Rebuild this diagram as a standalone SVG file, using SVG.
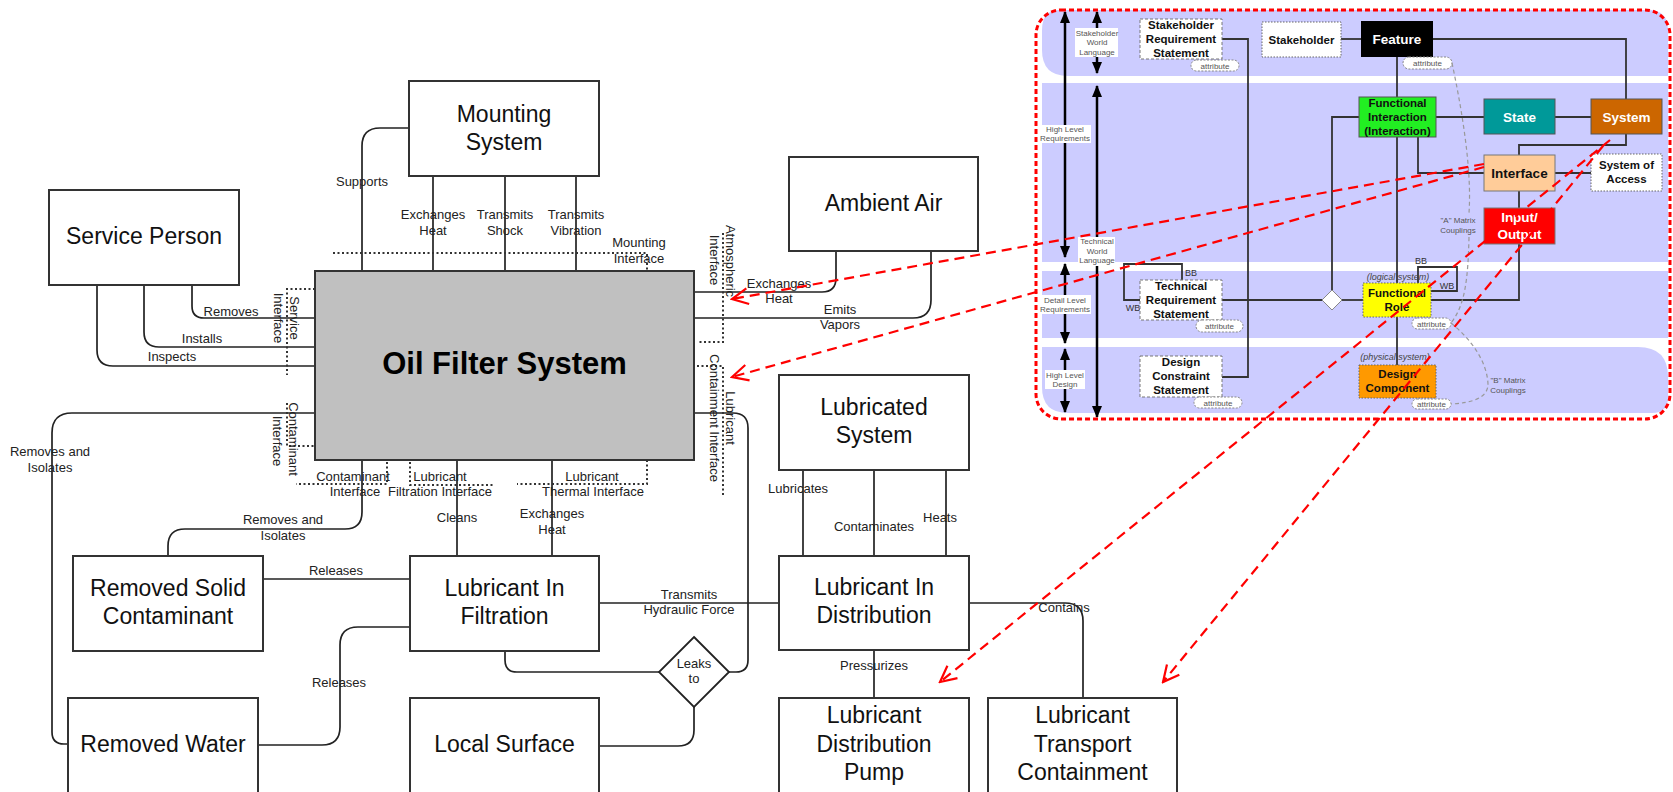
<svg xmlns="http://www.w3.org/2000/svg" width="1673" height="792" viewBox="0 0 1673 792">
<style>
.box{fill:#fff;stroke:#333;stroke-width:2}
.ln{fill:none;stroke:#222;stroke-width:1.7}
.dot{fill:none;stroke:#333;stroke-width:2;stroke-dasharray:2 2.5}
.t23{font-family:"Liberation Sans",Arial,sans-serif;font-size:23px;fill:#111;text-anchor:middle}
.big{font-family:"Liberation Sans",Arial,sans-serif;font-size:31px;font-weight:bold;fill:#000;text-anchor:middle}
.lb{font-family:"Liberation Sans",Arial,sans-serif;font-size:13px;fill:#222;text-anchor:middle}
.red{fill:none;stroke:#f00;stroke-width:2.2;stroke-dasharray:10 6;marker-end:url(#ra)}
.pl{fill:none;stroke:#333;stroke-width:1.8}
.pb{font-family:"Liberation Sans",Arial,sans-serif;font-size:11.5px;font-weight:bold;fill:#111;text-anchor:middle}
.pB{font-family:"Liberation Sans",Arial,sans-serif;font-size:13.5px;font-weight:bold;text-anchor:middle}
.sm{font-family:"Liberation Sans",Arial,sans-serif;font-size:8px;fill:#555;text-anchor:middle}
.it{font-family:"Liberation Sans",Arial,sans-serif;font-size:9px;font-style:italic;fill:#444;text-anchor:middle}
.bw{font-family:"Liberation Sans",Arial,sans-serif;font-size:9px;fill:#333;text-anchor:middle}
.pill{fill:#fff;stroke:#888;stroke-width:1;stroke-dasharray:2 1.5}
.arr{fill:none;stroke:#000;stroke-width:2.5;marker-start:url(#ba);marker-end:url(#ba)}
.band{fill:#ccccff}
.dash{stroke:#777;stroke-width:1;stroke-dasharray:3 2}
.dotb{stroke:#666;stroke-width:1;stroke-dasharray:1.5 1.5}
.cp{fill:none;stroke:#999;stroke-width:1.2;stroke-dasharray:4 3}
</style>
<defs>
<marker id="ra" viewBox="0 0 20 20" refX="18" refY="10" markerWidth="20" markerHeight="20" markerUnits="userSpaceOnUse" orient="auto">
<path d="M2,2 L18,10 L2,18" fill="none" stroke="#f00" stroke-width="2.2" stroke-dasharray="none"/>
</marker>
<marker id="ba" viewBox="0 0 12 10" refX="11" refY="5" markerWidth="12" markerHeight="10" markerUnits="userSpaceOnUse" orient="auto-start-reverse">
<path d="M0,0 L12,5 L0,10 Z" fill="#000"/>
</marker>
</defs>
<rect x="0" y="0" width="1673" height="792" fill="#fff"/>

<!-- ============ MAIN DIAGRAM CONNECTORS ============ -->
<g id="connectors">
<path class="ln" d="M409,128 H380 Q362,128 362,146 V271"/>
<path class="ln" d="M433,176 V271"/>
<path class="ln" d="M505,176 V271"/>
<path class="ln" d="M576,176 V271"/>
<path class="ln" d="M192,285 V306 Q192,318 204,318 H315"/>
<path class="ln" d="M144,285 V332 Q144,347 159,347 H315"/>
<path class="ln" d="M97,285 V350 Q97,366 113,366 H315"/>
<path class="ln" d="M836,251 V278 Q836,292 822,292 H694"/>
<path class="ln" d="M931,251 V300 Q931,318 913,318 H694"/>
<path class="ln" d="M694,413 H733 Q748,413 748,428 V660 Q748,672 736,672 H729"/>
<path class="ln" d="M315,413 H72 Q52,413 52,433 V732 Q52,744 64,744 H68"/>
<path class="ln" d="M362,460 V512 Q362,529 345,529 H185 Q168,529 168,546 V556"/>
<path class="ln" d="M263,579 H410"/>
<path class="ln" d="M410,627 H358 Q340,627 340,645 V727 Q340,745 322,745 H258"/>
<path class="ln" d="M457,460 V556"/>
<path class="ln" d="M552,460 V556"/>
<path class="ln" d="M599,603 H779"/>
<path class="ln" d="M505,651 V660 Q505,672 517,672 H659"/>
<path class="ln" d="M694,707 V730 Q694,746 678,746 H599"/>
<path class="ln" d="M803,470 V556"/>
<path class="ln" d="M874,470 V556"/>
<path class="ln" d="M946,470 V556"/>
<path class="ln" d="M874,650 V698"/>
<path class="ln" d="M969,603 H1065 Q1083,603 1083,621 V698"/>
</g>

<!-- interface boundaries -->
<g id="interfaces">
<path class="dot" d="M333,253 H647 V271"/>
<path class="dot" d="M315,289 H287 V375"/>
<path class="dot" d="M723,233 V342 H697"/>
<path class="dot" d="M697,366 H723 V496"/>
<path class="dot" d="M287,403 V446 H315"/>
<path class="dot" d="M387,462 V484 H296"/>
<path class="dot" d="M410,462 V485 H493"/>
<path class="dot" d="M647,460 V484 H517"/>
</g>

<!-- ============ MAIN NODES ============ -->
<g id="service-person"><rect class="box" x="49" y="190" width="190" height="95"/><text class="t23" x="144" y="244">Service Person</text></g>
<g id="mounting-system"><rect class="box" x="409" y="81" width="190" height="95"/><text class="t23" x="504" y="122">Mounting</text><text class="t23" x="504" y="150">System</text></g>
<g id="ambient-air"><rect class="box" x="789" y="157" width="189" height="94"/><text class="t23" x="883.5" y="211">Ambient Air</text></g>
<g id="oil-filter-system"><rect x="315" y="271" width="379" height="189" fill="#c0c0c0" stroke="#333" stroke-width="2"/><text class="big" x="504.5" y="374">Oil Filter System</text></g>
<g id="removed-solid-contaminant"><rect class="box" x="73" y="556" width="190" height="95"/><text class="t23" x="168" y="596">Removed Solid</text><text class="t23" x="168" y="624">Contaminant</text></g>
<g id="lubricant-in-filtration"><rect class="box" x="410" y="556" width="189" height="95"/><text class="t23" x="504.5" y="596">Lubricant In</text><text class="t23" x="504.5" y="624">Filtration</text></g>
<g id="lubricated-system"><rect class="box" x="779" y="375" width="190" height="95"/><text class="t23" x="874" y="415">Lubricated</text><text class="t23" x="874" y="443">System</text></g>
<g id="lubricant-in-distribution"><rect class="box" x="779" y="556" width="190" height="94"/><text class="t23" x="874" y="595">Lubricant In</text><text class="t23" x="874" y="623">Distribution</text></g>
<g id="removed-water"><rect class="box" x="68" y="698" width="190" height="110"/><text class="t23" x="163" y="752">Removed Water</text></g>
<g id="local-surface"><rect class="box" x="410" y="698" width="189" height="110"/><text class="t23" x="504.5" y="752">Local Surface</text></g>
<g id="lubricant-distribution-pump"><rect class="box" x="779" y="698" width="190" height="110"/><text class="t23" x="874" y="723">Lubricant</text><text class="t23" x="874" y="752">Distribution</text><text class="t23" x="874" y="780">Pump</text></g>
<g id="lubricant-transport-containment"><rect class="box" x="988" y="698" width="189" height="110"/><text class="t23" x="1082.5" y="723">Lubricant</text><text class="t23" x="1082.5" y="752">Transport</text><text class="t23" x="1082.5" y="780">Containment</text></g>
<g id="leaks-to"><polygon points="694,637 729,672 694,707 659,672" fill="#fff" stroke="#222" stroke-width="1.8"/><text class="lb" x="694" y="668">Leaks</text><text class="lb" x="694" y="683">to</text></g>

<!-- labels -->
<g id="labels">
<text class="lb" x="362" y="186">Supports</text>
<text class="lb" x="433" y="219">Exchanges</text><text class="lb" x="433" y="235">Heat</text>
<text class="lb" x="505" y="219">Transmits</text><text class="lb" x="505" y="235">Shock</text>
<text class="lb" x="576" y="219">Transmits</text><text class="lb" x="576" y="235">Vibration</text>
<text class="lb" x="639" y="247">Mounting</text><text class="lb" x="639" y="263">Interface</text>
<text class="lb" x="231" y="316">Removes</text>
<text class="lb" x="202" y="343">Installs</text>
<text class="lb" x="172" y="361">Inspects</text>
<text class="lb" transform="translate(290,318) rotate(90)">Service</text>
<text class="lb" transform="translate(274,318) rotate(90)">Interface</text>
<text class="lb" transform="translate(726,261) rotate(90)">Atmospheric</text>
<text class="lb" transform="translate(710,260) rotate(90)">Interface</text>
<text class="lb" transform="translate(726,418) rotate(90)">Lubricant</text>
<text class="lb" transform="translate(710,418) rotate(90)">Containment Interface</text>
<text class="lb" transform="translate(289,439) rotate(90)">Contaminant</text>
<text class="lb" transform="translate(273,441) rotate(90)">Interface</text>
<text class="lb" x="779" y="288">Exchanges</text><text class="lb" x="779" y="303">Heat</text>
<text class="lb" x="840" y="314">Emits</text><text class="lb" x="840" y="329">Vapors</text>
<text class="lb" x="50" y="456">Removes and</text><text class="lb" x="50" y="472">Isolates</text>
<text class="lb" x="283" y="524">Removes and</text><text class="lb" x="283" y="540">Isolates</text>
<text class="lb" x="353" y="481">Contaminant</text><text class="lb" x="355" y="496">Interface</text>
<text class="lb" x="440" y="481">Lubricant</text><text class="lb" x="440" y="496">Filtration Interface</text>
<text class="lb" x="592" y="481">Lubricant</text><text class="lb" x="593" y="496">Thermal Interface</text>
<text class="lb" x="336" y="575">Releases</text>
<text class="lb" x="339" y="687">Releases</text>
<text class="lb" x="457" y="522">Cleans</text>
<text class="lb" x="552" y="518">Exchanges</text><text class="lb" x="552" y="534">Heat</text>
<text class="lb" x="689" y="599">Transmits</text><text class="lb" x="689" y="614">Hydraulic Force</text>
<text class="lb" x="798" y="493">Lubricates</text>
<text class="lb" x="874" y="531">Contaminates</text>
<text class="lb" x="940" y="522">Heats</text>
<text class="lb" x="874" y="670">Pressurizes</text>
<text class="lb" x="1064" y="612">Contains</text>
</g>

<!-- ============ RIGHT PANEL ============ -->
<g id="panel-bands">
<path class="band" d="M1060,10 H1648 Q1668,10 1668,30 V76 H1068 Q1042,76 1042,50 V30 Q1042,10 1060,10 Z"/>
<rect class="band" x="1042" y="83" width="626" height="179"/>
<rect class="band" x="1042" y="271" width="626" height="67"/>
<path class="band" d="M1042,347 H1638 Q1668,347 1668,377 V397 Q1668,413 1652,413 H1068 Q1042,413 1042,387 Z"/>
</g>

<g id="panel-arrows">
<path class="arr" d="M1065,12 V257"/>
<path class="arr" d="M1065,264 V343"/>
<path class="arr" d="M1065,349 V412"/>
<path class="arr" d="M1097,12 V73"/>
<path class="arr" d="M1097,86 V417"/>
<rect x="1075" y="28" width="43" height="29" fill="#fff"/>
<text class="sm" x="1097" y="35.5">Stakeholder</text><text class="sm" x="1097" y="45">World</text><text class="sm" x="1097" y="54.5">Language</text>
<rect x="1040" y="125" width="51" height="18" fill="#fff"/>
<text class="sm" x="1065" y="132">High Level</text><text class="sm" x="1065" y="141">Requirements</text>
<rect x="1078" y="237" width="37" height="29" fill="#fff"/>
<text class="sm" x="1097" y="244">Technical</text><text class="sm" x="1097" y="254">World</text><text class="sm" x="1097" y="263">Language</text>
<rect x="1040" y="295" width="51" height="19" fill="#fff"/>
<text class="sm" x="1065" y="303">Detail Level</text><text class="sm" x="1065" y="312">Requirements</text>
<rect x="1045" y="370" width="40" height="19" fill="#fff"/>
<text class="sm" x="1065" y="378">High Level</text><text class="sm" x="1065" y="387">Design</text>
</g>

<g id="panel-connectors">
<path class="pl" d="M1222,39 H1248 V377 H1222"/>
<path class="pl" d="M1341,39 H1361"/>
<path class="pl" d="M1433,39 H1626 V99"/>
<path class="pl" d="M1397,57 V97"/>
<path class="pl" d="M1397,137 V283"/>
<path class="pl" d="M1397,317 V365"/>
<path class="pl" d="M1436,117 H1484"/>
<path class="pl" d="M1555,117 H1591"/>
<path class="pl" d="M1626,134 V145 H1519 V155"/>
<path class="pl" d="M1418,137 V173 H1484"/>
<path class="pl" d="M1555,173 H1591"/>
<path class="pl" d="M1519,191 V208"/>
<path class="pl" d="M1519,244 V300 H1431"/>
<path class="pl" d="M1222,300 H1322"/>
<path class="pl" d="M1342,300 H1363"/>
<path class="pl" d="M1332,290 V117 H1359"/>
<path class="pl" d="M1418,283 V267 H1457 V291 H1431"/>
<path class="pl" d="M1182,280 V264 H1124 V300 H1140"/>
<text class="bw" x="1421" y="264">BB</text>
<text class="bw" x="1447" y="289">WB</text>
<text class="bw" x="1191" y="276">BB</text>
<text class="bw" x="1133" y="311">WB</text>
</g>

<g id="stakeholder-requirement-statement"><rect class="dash" x="1140" y="19" width="82" height="40" fill="#fff"/><text class="pb" x="1181" y="29">Stakeholder</text><text class="pb" x="1181" y="43">Requirement</text><text class="pb" x="1181" y="57">Statement</text>
<rect class="pill" x="1191" y="60" width="48" height="11" rx="5.5"/><text class="sm" x="1215" y="68.5">attribute</text></g>
<g id="stakeholder"><rect class="dotb" x="1262" y="22" width="79" height="35" fill="#fff"/><text class="pb" x="1301.5" y="43.5">Stakeholder</text></g>
<g id="feature"><rect x="1361" y="21" width="72" height="36" fill="#000"/><text class="pB" x="1397" y="44" fill="#fff">Feature</text>
<rect class="pill" x="1403" y="57" width="49" height="12" rx="6"/><text class="sm" x="1427.5" y="66">attribute</text></g>
<g id="functional-interaction"><rect x="1359" y="97" width="77" height="40" fill="#22ee22" stroke="#555" stroke-width="1"/><text class="pb" x="1397.5" y="107">Functional</text><text class="pb" x="1397.5" y="121">Interaction</text><text class="pb" x="1397.5" y="135">(Interaction)</text></g>
<g id="state"><rect x="1484" y="99" width="71" height="35" fill="#009999" stroke="#555" stroke-width="1"/><text class="pB" x="1519.5" y="122" fill="#fff">State</text></g>
<g id="system"><rect x="1591" y="99" width="71" height="35" fill="#cc6600" stroke="#555" stroke-width="1"/><text class="pB" x="1626.5" y="122" fill="#fff">System</text></g>
<g id="interface"><rect x="1484" y="155" width="71" height="36" fill="#ffcc99" stroke="#777" stroke-width="1"/><text class="pB" x="1519.5" y="178" fill="#111">Interface</text></g>
<g id="system-of-access"><rect class="dotb" x="1591" y="154" width="71" height="37" fill="#fff"/><text class="pb" x="1626.5" y="169">System of</text><text class="pb" x="1626.5" y="183">Access</text></g>
<g id="input-output"><rect x="1484" y="208" width="71" height="36" fill="#ff0000" stroke="#777" stroke-width="1"/><text class="pB" x="1519.5" y="222" fill="#fff">Input/</text><text class="pB" x="1519.5" y="239" fill="#fff">Output</text></g>
<g id="functional-role"><text class="it" x="1398" y="279.5">(logical system)</text><rect class="dotb" x="1363" y="283" width="68" height="34" fill="#ffff00"/><text class="pb" x="1397" y="296.5">Functional</text><text class="pb" x="1397" y="311">Role</text>
<rect class="pill" x="1412" y="318" width="39" height="11" rx="5.5"/><text class="sm" x="1431.5" y="326.5">attribute</text></g>
<g id="design-component"><text class="it" x="1395" y="360">(physical system)</text><rect class="dotb" x="1359" y="365" width="77" height="33" fill="#ff9900"/><text class="pb" x="1397.5" y="378">Design</text><text class="pb" x="1397.5" y="392">Component</text>
<rect class="pill" x="1412" y="399" width="39" height="10" rx="5"/><text class="sm" x="1431.5" y="406.5">attribute</text></g>
<g id="technical-requirement-statement"><rect class="dash" x="1140" y="280" width="82" height="40" fill="#fff"/><text class="pb" x="1181" y="290">Technical</text><text class="pb" x="1181" y="304">Requirement</text><text class="pb" x="1181" y="318">Statement</text>
<rect class="pill" x="1196" y="320" width="47" height="12" rx="6"/><text class="sm" x="1219.5" y="329">attribute</text></g>
<g id="design-constraint-statement"><rect class="dash" x="1140" y="356" width="82" height="41" fill="#fff"/><text class="pb" x="1181" y="366">Design</text><text class="pb" x="1181" y="380">Constraint</text><text class="pb" x="1181" y="394">Statement</text>
<rect class="pill" x="1194" y="397" width="48" height="11" rx="5.5"/><text class="sm" x="1218" y="405.5">attribute</text></g>
<g id="junction"><polygon points="1332,290 1342,300 1332,310 1322,300" fill="#fff" stroke="#888" stroke-width="1"/></g>

<g id="couplings">
<path class="cp" d="M1452,63 C1462,110 1472,170 1469,213"/>
<path class="cp" d="M1469,237 C1468,280 1465,305 1451,323"/>
<path class="cp" d="M1451,323 C1472,340 1487,362 1488,384 C1488,398 1472,403 1451,404"/>
<text class="sm" x="1458" y="223">"A" Matrix</text><text class="sm" x="1458" y="233">Couplings</text>
<text class="sm" x="1508" y="383">"B" Matrix</text><text class="sm" x="1508" y="393">Couplings</text>
</g>

<rect id="panel-border" x="1036" y="10" width="634" height="409" rx="25" fill="none" stroke="#f00" stroke-width="3" stroke-dasharray="5 3"/>

<g id="mapping-arrows">
<path class="red" d="M1484,164 L732,299"/>
<path class="red" d="M1484,167 L732,377"/>
<path class="red" d="M1610,140 L940,682"/>
<path class="red" d="M1603,146 L1163,682"/>
</g>
</svg>
